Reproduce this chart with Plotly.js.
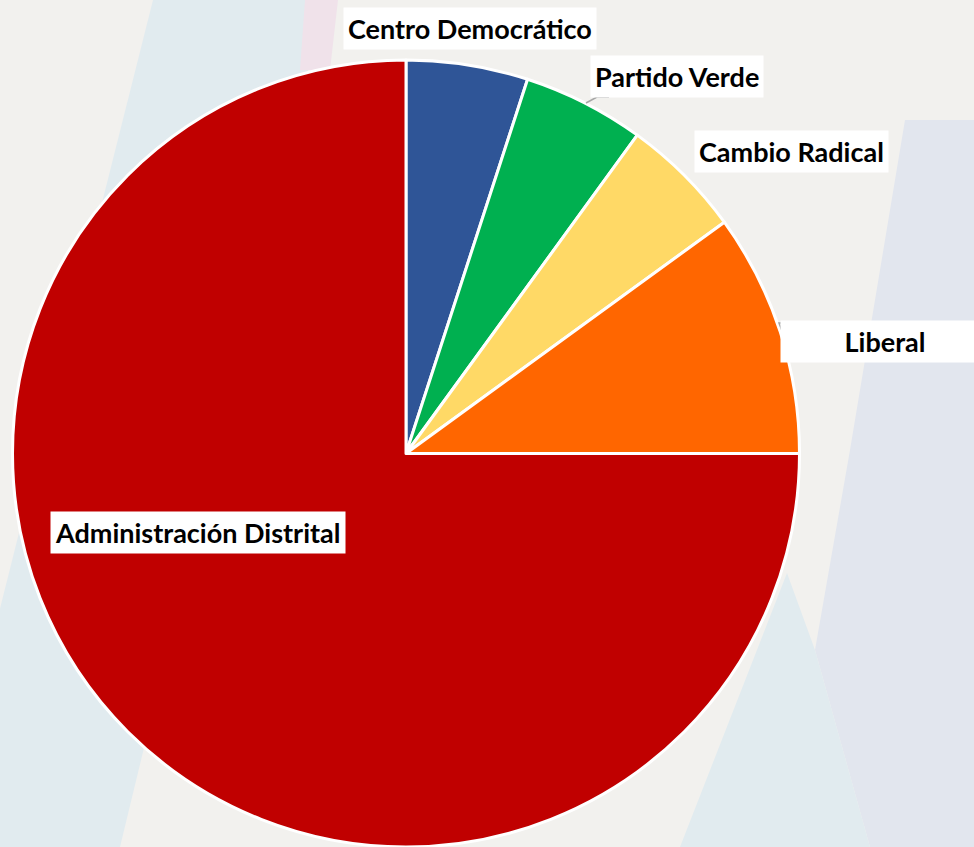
<!DOCTYPE html>
<html>
<head>
<meta charset="utf-8">
<script src="https://cdn.plot.ly/plotly-3.0.1.min.js"></script>
<style>
html,body{margin:0;padding:0;overflow:hidden;background:#f2f1ee;}
#chart{width:974px;height:847px;}
</style>
</head>
<body>
<div id="chart"></div>
<script>
// ---- data ----
const parties = ["Centro Democrático", "Partido Verde", "Cambio Radical", "Liberal", "Administración Distrital"];
const seats = [1, 1, 1, 2, 15];
const sliceColors = ["#2F5597", "#00B050", "#FFD966", "#FF6600", "#C00000"];

// ---- label placement (pixels from top-left of the 974x847 page) ----
const W = 974, H = 847;
const labelPos = [
  {x: 470, y: 28, w: null},
  {x: 677, y: 76, w: null},
  {x: 791, y: 151, w: null},
  {x: 885, y: 341, w: 200},
  {x: 198, y: 532, w: null}
];

const px = x => x / W;
const py = y => 1 - y / H;

const trace = {
  type: "pie",
  labels: parties,
  values: seats,
  sort: false,
  direction: "clockwise",
  rotation: 0,
  textinfo: "none",
  hoverinfo: "label+value+percent",
  marker: {colors: sliceColors, line: {color: "#ffffff", width: 3}},
  domain: {x: [12 / W, 800 / W], y: [0, 787 / H]},
  showlegend: false
};

const annotations = parties.map((p, i) => {
  const a = {
    text: p,
    xref: "paper", yref: "paper",
    x: px(labelPos[i].x), y: py(labelPos[i].y),
    xanchor: "center", yanchor: "middle",
    showarrow: false,
    bgcolor: "#ffffff",
    borderpad: 4,
    font: {family: "Lato, 'Open Sans', sans-serif", size: 27, color: "#000000", weight: "bold"}
  };
  if (labelPos[i].w) a.width = labelPos[i].w;
  return a;
});

function poly(pts) {
  return "M" + pts.map(p => px(p[0]) + "," + py(p[1])).join("L") + "Z";
}
function line(pts) {
  return "M" + pts.map(p => px(p[0]) + "," + py(p[1])).join("L");
}

const shapes = [
  {type: "path", xref: "paper", yref: "paper", layer: "below", line: {width: 0},
   fillcolor: "#e1ebef", path: poly([[153,0],[325,0],[120,847],[-60,847]])},
  {type: "path", xref: "paper", yref: "paper", layer: "below", line: {width: 0},
   fillcolor: "#f0e2ea", path: poly([[305,0],[338,0],[330,70],[300,70]])},
  {type: "path", xref: "paper", yref: "paper", layer: "below", line: {width: 0},
   fillcolor: "#e2e6ee", path: poly([[905,120],[974,120],[974,847],[870,847],[815,650],[850,450]])},
  {type: "path", xref: "paper", yref: "paper", layer: "below", line: {width: 0},
   fillcolor: "#e1ebef", path: poly([[787,573],[815,650],[870,847],[680,847]])},
  {type: "path", xref: "paper", yref: "paper", layer: "above", line: {width: 1.5, color: "#a6a6a6"},
   path: line([[586,103],[597,97],[609,97]])},
  {type: "path", xref: "paper", yref: "paper", layer: "above", line: {width: 1.5, color: "#a6a6a6"},
   path: line([[782,331],[779,323],[791,323]])}
];

const layout = {
  width: W, height: H,
  margin: {l: 0, r: 0, t: 0, b: 0},
  paper_bgcolor: "#f2f1ee",
  plot_bgcolor: "#f2f1ee",
  annotations: annotations,
  shapes: shapes,
  showlegend: false
};

Plotly.newPlot("chart", [trace], layout, {displayModeBar: false, staticPlot: true});
</script>
</body>
</html>
